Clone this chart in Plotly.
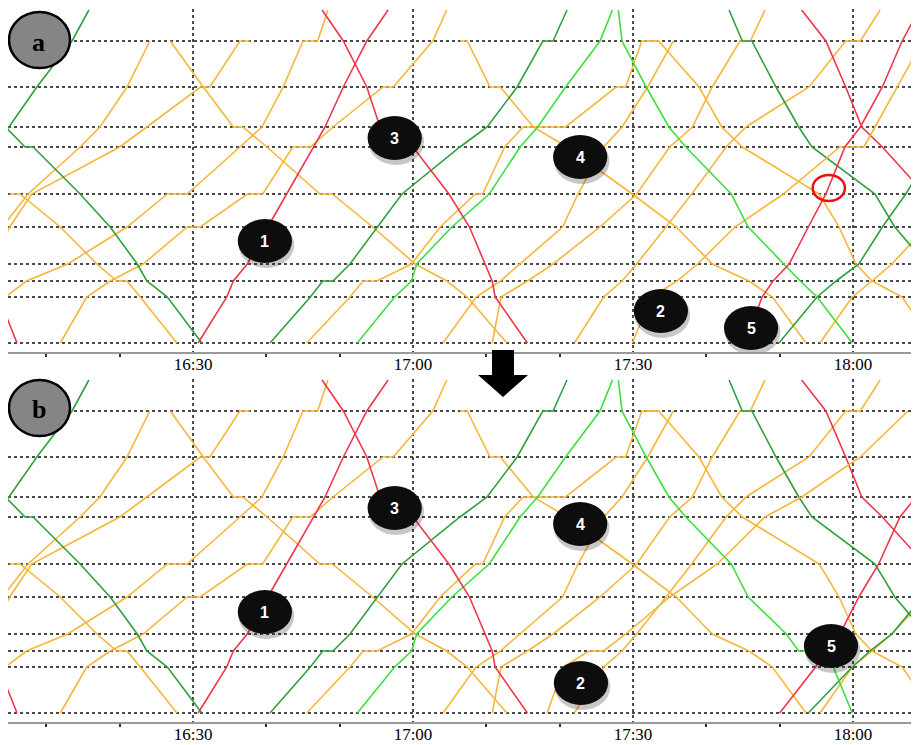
import plotly.graph_objects as go

# ---------------- data ----------------
STATION_KM = [0.0, 3.1, 7.7, 11.7, 13.7, 18.4, 21.7, 25.4, 27.1, 28.7, 33.3]
X_RANGE_MIN = [4.77, 129.0]          # minutes after 16:00
TICK_MIN = [30, 60, 90, 120]
TICK_LABELS = ["16:30", "17:00", "17:30", "18:00"]
MINOR_TICK_MIN = [10, 20, 40, 50, 70, 80, 100, 110]

# each train: list of (station index, minutes after 16:00)
OR_A1 = [(8, -1.0), (7, 1.5), (6, 4.0), (5, 7.5), (4, 14.6), (3, 17.3), (2, 21.0), (1, 24.1)]
OR_A2 = [(9, -3.0), (8, 0.0), (7, 2.5), (6, 5.0), (5, 8.0), (4, 20.0), (3, 23.7), (2, 31.0), (2, 32.3), (1, 36.4), (1, 37.8)]
OR_D1 = [(5, 5.0), (5, 6.4), (6, 11.9), (7, 16.9), (8, 19.6), (8, 21.0), (9, 22.8), (10, 27.8)]
OR_U1 = [(9, 4.4), (8, 7.3), (7, 12.9), (6, 21.0), (5, 26.5), (5, 29.2), (4, 36.4), (3, 39.4), (2, 42.3), (1, 45.0), (1, 47.0), (0, 48.4)]
OR_U2 = [(10, 11.9), (9, 15.5), (8, 18.7), (7, 23.2), (6, 29.2), (6, 31.0), (5, 37.4), (5, 39.5), (4, 43.6), (4, 46.0), (3, 49.1), (2, 55.9), (2, 57.3), (1, 62.7), (0, 64.6)]
OR_D3 = [(1, 26.9), (2, 31.4), (3, 35.5), (3, 36.8), (4, 40.1), (5, 47.3), (5, 49.0), (6, 54.5), (7, 60.3), (8, 64.6), (9, 67.4), (10, 72.8)]
OR_UB = [(10, 45.5), (9, 51.4), (8, 53.2), (8, 55.1), (7, 59.8), (6, 63.7), (5, 68.5), (5, 69.5), (4, 72.5), (3, 75.0), (3, 80.8), (2, 87.7), (2, 89.0), (1, 91.2), (1, 93.5)]
OR_T4 = [(1, 66.4), (1, 67.4), (2, 70.5), (2, 71.9), (3, 76.4), (4, 81.0), (5, 89.9), (6, 95.9), (7, 100.8), (8, 105.8), (9, 109.0), (10, 113.6)]
OR_D5 = [(1, 92.0), (1, 93.5), (2, 99.0), (3, 102.1), (4, 104.9), (5, 115.4), (6, 118.1), (7, 120.4), (8, 122.6), (9, 126.7), (10, 131.0)]
OR_UC = [(10, 70.8), (9, 72.0), (8, 75.6), (7, 79.1), (6, 85.5), (5, 90.5), (4, 95.0), (3, 98.1), (2, 100.8), (1, 104.6), (1, 106.0), (0, 108.0)]
OR_UG = [(10, 64.1), (9, 68.6), (8, 71.9), (7, 74.6), (6, 80.4), (5, 82.5), (4, 86.0), (3, 88.5), (2, 92.0), (1, 95.5)]
OR_UF = [(10, 82.0), (9, 86.0), (8, 88.5), (7, 90.5), (6, 94.5), (5, 98.0), (4, 102.7), (3, 105.4), (2, 114.0), (1, 119.0), (1, 121.0), (0, 123.7)]
OR_UE = [(10, 115.5), (9, 119.9), (8, 122.6), (7, 125.3), (6, 130.0)]
OR_T2_A = [(10, 89.9), (9, 92.5), (8, 96.0), (7, 98.8), (6, 103.9), (5, 110.5), (4, 118.2), (4, 121.5), (3, 123.0), (2, 126.0), (1, 129.5)]
OR_T2_B = [(10, 78.3), (9, 80.5), (8, 84.0), (8, 86.0), (7, 89.0), (6, 95.0), (5, 101.5), (4, 108.0), (3, 113.0), (2, 121.0), (1, 127.5)]

DG_A = [(4, 2.5), (3, 4.9), (2, 8.7), (1, 13.5), (0, 15.8)]
DG_B = [(3, 4.4), (4, 7.1), (4, 8.2), (5, 14.6), (6, 18.7), (7, 22.4), (8, 23.7), (9, 26.5), (10, 31.2)]
DG_C = [(10, 40.5), (9, 46.0), (8, 47.7), (8, 49.1), (7, 51.4), (6, 55.1), (5, 58.5), (4, 66.4), (3, 70.1), (2, 74.2), (1, 77.7), (1, 79.1), (0, 81.0)]
DG_F = [(0, 103.1), (1, 104.9), (1, 106.2), (2, 109.5), (3, 112.6), (4, 114.4), (5, 123.0), (6, 125.7), (7, 130.0)]
DG_G_A = [(10, 109.9), (9, 115.1), (8, 117.7), (7, 120.8), (6, 124.0), (5, 127.2), (4, 131.0)]
DG_G_B = [(10, 113.9), (9, 119.9), (8, 122.3), (7, 125.3), (6, 129.5)]

LG_D = [(10, 52.4), (9, 57.5), (8, 59.8), (7, 60.5), (6, 65.3), (5, 70.4), (4, 74.6), (3, 77.0), (2, 80.8), (1, 85.5), (0, 87.2)]
LG_E_A = [(0, 88.0), (1, 88.5), (2, 91.8), (3, 94.9), (4, 97.2), (5, 103.4), (6, 105.7), (7, 110.6), (8, 112.8), (9, 115.1), (10, 119.9)]
LG_E_B = [(0, 88.0), (1, 88.5), (2, 91.8), (3, 94.9), (4, 97.2), (5, 103.4), (6, 105.7), (7, 110.9), (8, 112.6), (8, 115.0), (9, 117.3), (10, 119.9)]

RD_0 = [(8, 1.5), (9, 3.5), (10, 6.0)]
RD_1 = [(10, 30.7), (9, 34.6), (8, 35.5), (7, 37.4), (6, 40.2), (5, 42.8), (4, 46.4), (3, 48.0), (2, 50.5), (1, 53.7), (0, 56.6)]
RD_3 = [(0, 47.6), (1, 50.5), (2, 53.7), (3, 55.5), (4, 60.0), (5, 64.9), (6, 67.7), (7, 69.8), (8, 70.8), (9, 71.2), (10, 75.6)]
RD_5_A = [(10, 105.3), (9, 107.6), (8, 109.1), (7, 111.3), (6, 113.9), (5, 116.3), (4, 118.9), (3, 121.0), (2, 124.0), (1, 126.7), (0, 129.0)]
RD_5_B = [(10, 110.0), (9, 114.9), (8, 116.0), (7, 118.2), (6, 120.8), (5, 123.5), (4, 126.4), (3, 128.6), (2, 131.5)]
RD_6 = [(0, 113.0), (1, 116.3), (2, 119.0), (3, 121.2), (4, 124.0), (5, 129.8)]

MARKER_LABELS = ["1", "2", "3", "4", "5"]
MARKER_A_MIN = [39.8, 93.8, 57.5, 82.8, 106.1]
MARKER_A_KM = [23.1, 30.1, 12.8, 14.7, 31.8]
MARKER_B_MIN = [39.8, 82.9, 57.5, 82.8, 117.0]
MARKER_B_KM = [23.2, 30.3, 12.8, 14.4, 26.6]
RING_A_MIN = [116.7]
RING_A_KM = [17.8]
PANEL_LABELS = ["a", "b"]

ORANGE = "#F7B63A"
DARK_GREEN = "#2FA03F"
LIGHT_GREEN = "#3CE03C"
RED = "#F0364A"

COMMON = [
    (ORANGE, [OR_A1, OR_A2, OR_D1, OR_U1, OR_U2, OR_D3, OR_UB, OR_T4, OR_D5, OR_UC, OR_UG, OR_UF, OR_UE]),
    (DARK_GREEN, [DG_A, DG_B, DG_C, DG_F]),
    (LIGHT_GREEN, [LG_D]),
    (RED, [RD_0, RD_1, RD_3, RD_6]),
]
PANEL_A_EXTRA = [(ORANGE, [OR_T2_A]), (DARK_GREEN, [DG_G_A]), (LIGHT_GREEN, [LG_E_A]), (RED, [RD_5_A])]
PANEL_B_EXTRA = [(ORANGE, [OR_T2_B]), (DARK_GREEN, [DG_G_B]), (LIGHT_GREEN, [LG_E_B]), (RED, [RD_5_B])]

# ---------------- figure ----------------
# the page body has an 8px margin, so the figure is drawn 8px right / down
OFF = 8
W, H = 919 - OFF, 745 - OFF
fig = go.Figure()


def px_x(p):          # page pixel -> paper fraction
    return (p - OFF) / W


def px_y(p):
    return 1 - (p - OFF) / H


def add_panel(groups, xa, ya):
    for color, trains in groups:
        for tr in trains:
            fig.add_trace(go.Scatter(
                x=[t for s, t in tr], y=[STATION_KM[s] for s, t in tr],
                mode="lines", line=dict(color=color, width=1.6),
                hoverinfo="skip", showlegend=False, xaxis=xa, yaxis=ya))


add_panel(COMMON + PANEL_A_EXTRA, "x", "y")
add_panel(COMMON + PANEL_B_EXTRA, "x2", "y2")

shapes = []
annotations = []


def add_markers(mins, kms, xr, yr):
    for lab, t, k in zip(MARKER_LABELS, mins, kms):
        # soft shadow
        shapes.append(dict(type="circle", xref=xr, yref=yr, x0=t - 3.6, x1=t + 4.0,
                           y0=k - 1.9, y1=k + 2.7, fillcolor="rgba(0,0,0,0.22)",
                           line=dict(width=0), layer="above"))
        shapes.append(dict(type="circle", xref=xr, yref=yr, x0=t - 3.7, x1=t + 3.7,
                           y0=k - 2.2, y1=k + 2.2, fillcolor="#0d0d0d",
                           line=dict(width=0), layer="above"))
        annotations.append(dict(x=t, y=k, xref=xr, yref=yr, text="<b>%s</b>" % lab,
                                showarrow=False, xanchor="center", yanchor="middle",
                                font=dict(color="white", size=16, family="Liberation Sans")))


add_markers(MARKER_A_MIN, MARKER_A_KM, "x", "y")
add_markers(MARKER_B_MIN, MARKER_B_KM, "x2", "y2")

for t, k in zip(RING_A_MIN, RING_A_KM):
    shapes.append(dict(type="circle", xref="x", yref="y", x0=t - 2.2, x1=t + 2.2,
                       y0=k - 1.3, y1=k + 1.3, line=dict(color="#EE1111", width=2.5),
                       layer="above"))

# panel letters
for lab, cy in zip(PANEL_LABELS, [40, 408]):
    shapes.append(dict(type="circle", xref="paper", yref="paper",
                       x0=px_x(9), x1=px_x(70), y0=px_y(cy + 28), y1=px_y(cy - 28),
                       fillcolor="#858585", line=dict(color="black", width=2.5), layer="above"))
    annotations.append(dict(x=px_x(39), y=px_y(cy + 2), xref="paper", yref="paper",
                            text="<b>%s</b>" % lab, showarrow=False,
                            xanchor="center", yanchor="middle",
                            font=dict(size=26, color="black", family="Liberation Serif")))

# arrow between panels
pts = [(492, 350), (514, 350), (514, 375), (528, 375), (503, 397), (478, 375), (492, 375)]
path = "M " + " L ".join("%.4f,%.4f" % (px_x(a), px_y(b)) for a, b in pts) + " Z"
shapes.append(dict(type="path", xref="paper", yref="paper", path=path,
                   fillcolor="black", line=dict(width=0), layer="above"))

GRID = dict(showgrid=True, gridcolor="#4a4a4a", gridwidth=1.6, griddash="dot")
xcommon = dict(range=X_RANGE_MIN, tickvals=TICK_MIN, ticktext=TICK_LABELS, ticks="",
               tickfont=dict(family="Liberation Serif", size=17, color="black"),
               ticklabelstandoff=-4,
               showline=True, linecolor="#9a9a9a", linewidth=1.5, zeroline=False,
               automargin=False,
               minor=dict(tickvals=MINOR_TICK_MIN, ticks="outside", ticklen=3,
                          tickwidth=2, tickcolor="#333333", showgrid=False),
               domain=[0, 1], **GRID)
ycommon = dict(range=[34.2, -0.1], tickvals=STATION_KM, showticklabels=False, ticks="",
               showline=True, linecolor="#9a9a9a", linewidth=1.5, zeroline=False,
               automargin=False, **GRID)

fig.update_layout(
    width=W, height=H, margin=dict(l=0, r=0, t=0, b=0, pad=0),
    paper_bgcolor="white", plot_bgcolor="white",
    xaxis=dict(anchor="y", **xcommon),
    xaxis2=dict(anchor="y2", **xcommon),
    yaxis=dict(anchor="x", domain=[px_y(352), px_y(9)], **ycommon),
    yaxis2=dict(anchor="x2", domain=[px_y(722), px_y(379)], **ycommon),
    shapes=shapes, annotations=annotations,
)

fig.write_html("out.html")
